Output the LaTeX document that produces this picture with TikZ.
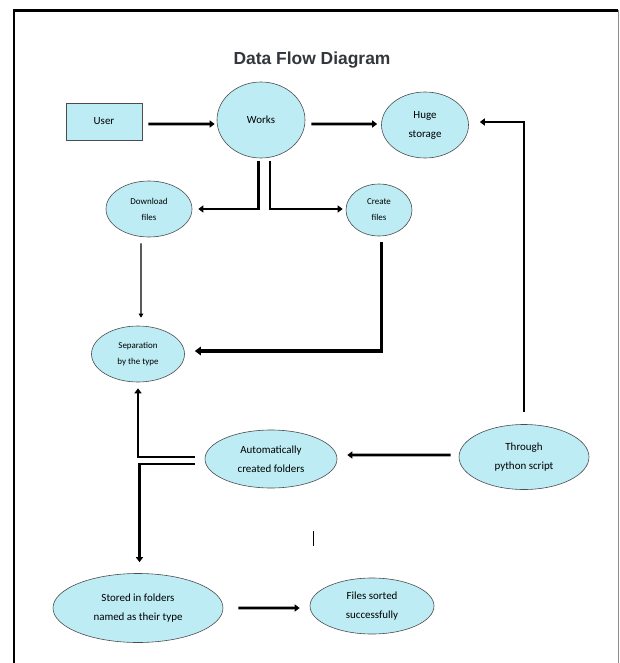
\documentclass[tikz,border=0pt]{standalone}
\usepackage{fontspec}
\setmainfont{Carlito}
\newfontfamily\titlefont{Liberation Sans}
\usetikzlibrary{shapes.geometric,arrows.meta}
\definecolor{bubble}{RGB}{189,236,245}
\definecolor{titlegray}{RGB}{51,55,60}
\tikzset{
  proc/.style={ellipse,draw=black!70,line width=0.6bp,fill=bubble,inner sep=0pt,align=center,font=\fontsize{11}{19}\selectfont},
  small/.style={font=\fontsize{9}{16}\selectfont},
  flow/.style={line width=2.8bp,-{Triangle[length=5bp,width=7bp]}},
  heavy/.style={line width=3.8bp,-{Triangle[length=6bp,width=8.5bp]}},
  thinflow/.style={line width=1.3bp,-{Triangle[length=4bp,width=4.5bp]}}
}
\begin{document}
\begin{tikzpicture}[x=1bp,y=-1bp]
\useasboundingbox (0,0) rectangle (620,663);
% frame
\draw[line width=2.2bp] (14,663) -- (14,10.5) -- (618,10.5);
\draw[black!45,line width=0.8bp] (618.5,10.5) -- (618.5,663);
% title
\node[font=\titlefont\bfseries\fontsize{17.5}{20}\selectfont,text=titlegray] (title) at (312,60) {Data Flow Diagram};
% nodes
\node[draw=black!70,line width=0.6bp,fill=bubble,minimum width=76bp,minimum height=37bp,inner sep=0pt,font=\fontsize{11}{13}\selectfont] (user) at (104,121.5) {User};
\node[proc,minimum width=88bp,minimum height=76bp] (works) at (261,120) {Works};
\node[proc,minimum width=87bp,minimum height=66bp] (huge) at (425,125) {Huge\\storage};
\node[proc,small,minimum width=86bp,minimum height=56bp] (dl) at (149,209) {Download\\files};
\node[proc,small,minimum width=66bp,minimum height=52bp] (create) at (379,210) {Create\\files};
\node[proc,small,minimum width=93bp,minimum height=56bp] (sep) at (138,354) {Separation\\by the type};
\node[proc,minimum width=132bp,minimum height=58bp] (auto) at (271,459) {Automatically\\created folders};
\node[proc,minimum width=130bp,minimum height=65bp] (thru) at (524,457) {Through\\python script};
\node[proc,minimum width=170bp,minimum height=69bp] (stored) at (138,608) {Stored in folders\\named as their type};
\node[proc,minimum width=124bp,minimum height=56bp] (files) at (372,606) {Files sorted\\successfully};
% connectors
\draw[flow,shorten <=6bp,shorten >=2bp] ([yshift=-2.5bp]user.east) -- ([yshift=-4bp]works.west);
\draw[flow,shorten <=6bp,shorten >=4bp] ([yshift=-4bp]works.east) -- ([yshift=1bp]huge.west);
\draw[flow,shorten >=6bp] ([xshift=-2.5bp,yshift=-2.5bp]works.south) |- (dl.east);
\draw[flow,shorten >=3bp] ([xshift=9bp,yshift=-2.5bp]works.south) |- ([yshift=1bp]create.west);
\draw[thinflow] ([xshift=-8bp,yshift=-6bp]dl.south) -- ([xshift=3bp,yshift=8bp]sep.north);
\draw[heavy,shorten >=10bp] ([xshift=2.5bp,yshift=-6bp]create.south) |- ([yshift=3bp]sep.east);
\draw[flow,shorten >=11bp] ([yshift=12bp]thru.north) |- ([yshift=3bp]huge.east);
\draw[flow,shorten <=8bp,shorten >=10bp] ([yshift=2bp]thru.west) -- ([yshift=4bp]auto.west -| auto.east);
\draw[flow,shorten >=6bp] ([xshift=-10bp,yshift=2bp]auto.west) -| ([xshift=0bp]sep.south);
\draw[flow,shorten >=11bp] ([xshift=-10bp,yshift=-5bp]auto.west) -| ([xshift=1.5bp]stored.north);
\draw[flow,shorten <=15bp,shorten >=10bp] (stored.east) -- ([yshift=-2bp]files.west);
% stray cursor mark
\coordinate (cur) at (313,531);
\draw[line width=0.9bp] (cur) -- ++(0,15);
\end{tikzpicture}
\end{document}
